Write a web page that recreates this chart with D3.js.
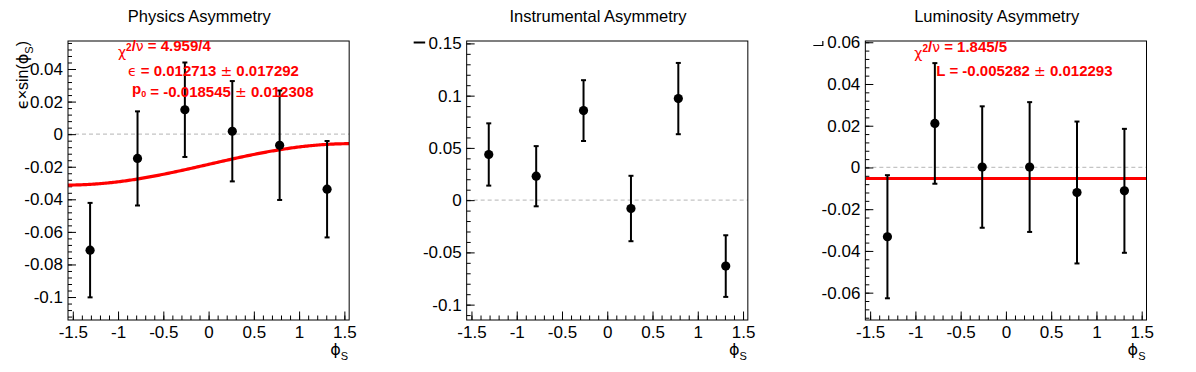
<!DOCTYPE html>
<html>
<head>
<meta charset="utf-8">
<script src="https://cdn.jsdelivr.net/npm/d3@7"></script>
<style>
  body { margin: 0; background: #fff; }
  svg text { font-family: 'Liberation Sans', Arial, Helvetica, sans-serif; }
</style>
</head>
<body>
<svg id="chart" width="1196" height="372"></svg>
<script>
'use strict';

// bin centres in phi_S (same for all three panels)
var xCenters = [-1.309, -0.785, -0.262, 0.262, 0.785, 1.309]
var xTicks = [-1.5, -1, -0.5, 0, 0.5, 1, 1.5]

var physVals = [-0.0712, -0.0149, 0.0150, 0.0018, -0.0068, -0.0338]
var physErrs = [0.0290, 0.0289, 0.0290, 0.0308, 0.0336, 0.0296]
var physYTicks = [-0.1, -0.08, -0.06, -0.04, -0.02, 0, 0.02, 0.04]

var instVals = [0.0437, 0.0229, 0.0857, -0.0080, 0.0972, -0.0631]
var instErrs = [0.0298, 0.0288, 0.0291, 0.0313, 0.0341, 0.0295]
var instYTicks = [-0.1, -0.05, 0, 0.05, 0.1, 0.15]

var lumiVals = [-0.0332, 0.0211, 0.0002, 0.0002, -0.0120, -0.0112]
var lumiErrs = [0.0295, 0.0289, 0.0291, 0.0311, 0.0340, 0.0297]
var lumiYTicks = [-0.06, -0.04, -0.02, 0, 0.02, 0.04, 0.06]

// fit results printed on the pads
var physEps = 0.012713, physP0 = -0.018545
var lumiL = -0.005282

var panelW = 1196 / 3,
  panelH = 372,
  margin = { left: 68, right: 49.5, top: 41, bottom: 52 },
  drawW = panelW - margin.left - margin.right,
  drawH = panelH - margin.top - margin.bottom

var SYM = "'DejaVu Sans', sans-serif"
var TICK_FONT = 17

var svg = d3.select('#chart')

var panels = [
  {
    title: 'Physics Asymmetry', vals: physVals, errs: physErrs,
    yDomain: [-0.1141, 0.0572], yTicks: physYTicks, yMinor: 0.004,
    fit: function(x) { return physP0 + physEps * Math.sin(x) },
    stats: [
      { x: 50, y: 57, parts: [['χ', 'sym'], ['2', 'sup'], ['/', 0], ['ν', 'sym'], [' = 4.959/4', 0]] },
      { x: 60, y: 76, parts: [['ϵ', 'sym'], [' = 0.012713 ', 0], ['±', 'sym'], [' 0.017292', 0]] },
      { x: 64, y: 94, parts: [['p', 0], ['0', 'sub'], [' = -0.018545 ', 0], ['±', 'sym'], [' 0.012308', 0]] }
    ],
    yTitle: true
  },
  {
    title: 'Instrumental Asymmetry', vals: instVals, errs: instErrs,
    yDomain: [-0.1147, 0.1523], yTicks: instYTicks, yMinor: 0.01,
    stats: [], mark: 'dash'
  },
  {
    title: 'Luminosity Asymmetry', vals: lumiVals, errs: lumiErrs,
    yDomain: [-0.0731, 0.0606], yTicks: lumiYTicks, yMinor: 0.004,
    fit: function(x) { return lumiL },
    stats: [
      { x: 49, y: 58, parts: [['χ', 'sym'], ['2', 'sup'], ['/', 0], ['ν', 'sym'], [' = 1.845/5', 0]] },
      { x: 71, y: 76, parts: [['L = -0.005282 ', 0], ['±', 'sym'], [' 0.012293', 0]] }
    ],
    mark: 'corner'
  }
]

function fmt(d) {
  return String(+d.toFixed(4))
}

function styleAxis(g) {
  g.attr('font-size', TICK_FONT)
    .attr('font-family', "'Liberation Sans', Arial, sans-serif")
  g.select('.domain').remove()
  g.selectAll('line').attr('stroke', '#000').attr('stroke-width', 1)
  g.selectAll('text')
    .attr('fill', '#000')
    .attr('font-size', TICK_FONT)
}

panels.forEach(function(p, i) {
  var ox = i * panelW
  var pg = svg.append('g').attr('transform', 'translate(' + ox + ',0)')

  pg.append('text')
    .attr('x', panelW / 2)
    .attr('y', 22)
    .attr('text-anchor', 'middle')
    .style('font-size', '16.5px')
    .text(p.title)

  var g = pg.append('g')
    .attr('transform', 'translate(' + margin.left + ',' + margin.top + ')')

  var xScale = d3.scaleLinear().domain([-1.553, 1.553]).range([0, drawW])
  var yScale = d3.scaleLinear().domain(p.yDomain).range([drawH, 0])

  var clipId = 'clip' + i
  g.append('clipPath').attr('id', clipId)
    .append('rect').attr('width', drawW).attr('height', drawH)

  // dashed zero line
  g.append('line')
    .attr('x1', 0).attr('x2', drawW)
    .attr('y1', yScale(0)).attr('y2', yScale(0))
    .attr('stroke', '#c4c4c4')
    .attr('stroke-width', 1.3)
    .attr('stroke-dasharray', '4,3')

  // axes, ticks drawn inwards like ROOT
  var xMinor = d3.range(-15, 16).map(function(k) { return k / 10 })
  g.append('g')
    .attr('transform', 'translate(0,' + drawH + ')')
    .call(d3.axisBottom(xScale).tickValues(xMinor).tickSize(-4.5).tickFormat(''))
    .call(styleAxis)
  g.append('g')
    .attr('transform', 'translate(0,' + drawH + ')')
    .call(d3.axisBottom(xScale).tickValues(xTicks).tickSize(-8.5).tickPadding(6).tickFormat(fmt))
    .call(styleAxis)

  var lo = Math.ceil(p.yDomain[0] / p.yMinor - 1e-6),
    hi = Math.floor(p.yDomain[1] / p.yMinor + 1e-6)
  var yMinor = d3.range(lo, hi + 1).map(function(k) { return k * p.yMinor })
  g.append('g')
    .call(d3.axisLeft(yScale).tickValues(yMinor).tickSize(-4).tickFormat(''))
    .call(styleAxis)
  g.append('g')
    .call(d3.axisLeft(yScale).tickValues(p.yTicks).tickSize(-8).tickPadding(5).tickFormat(fmt))
    .call(styleAxis)

  // fit function
  if (p.fit) {
    var xs = d3.range(0, 201).map(function(k) { return -1.553 + k * 3.106 / 200 })
    g.append('path')
      .datum(xs)
      .attr('clip-path', 'url(#' + clipId + ')')
      .attr('fill', 'none')
      .attr('stroke', '#ff0000')
      .attr('stroke-width', 3.2)
      .attr('d', d3.line()
        .x(function(d) { return xScale(d) })
        .y(function(d) { return yScale(p.fit(d)) }))
  }

  // error bars + markers
  var pts = xCenters.map(function(x, j) { return { x: x, y: p.vals[j], e: p.errs[j] } })
  var eb = g.selectAll('.eb').data(pts).enter().append('g').attr('class', 'eb')
  eb.append('line')
    .attr('x1', function(d) { return xScale(d.x) })
    .attr('x2', function(d) { return xScale(d.x) })
    .attr('y1', function(d) { return yScale(d.y - d.e) })
    .attr('y2', function(d) { return yScale(d.y + d.e) })
    .attr('stroke', '#000').attr('stroke-width', 2)
  eb.selectAll('.cap')
    .data(function(d) { return [d.y - d.e, d.y + d.e].map(function(v) { return { x: d.x, v: v } }) })
    .enter().append('line')
    .attr('x1', function(d) { return xScale(d.x) - 2.5 })
    .attr('x2', function(d) { return xScale(d.x) + 2.5 })
    .attr('y1', function(d) { return yScale(d.v) })
    .attr('y2', function(d) { return yScale(d.v) })
    .attr('stroke', '#000').attr('stroke-width', 2)
  eb.append('circle')
    .attr('cx', function(d) { return xScale(d.x) })
    .attr('cy', function(d) { return yScale(d.y) })
    .attr('r', 4.6)
    .attr('fill', '#000')

  // frame
  g.append('rect')
    .attr('width', drawW).attr('height', drawH)
    .attr('fill', 'none').attr('stroke', '#000').attr('stroke-width', 1)

  // fit statistics
  p.stats.forEach(function(s) {
    var t = g.append('text')
      .attr('x', s.x).attr('y', s.y - margin.top)
      .attr('fill', '#ff0000')
      .style('font-size', '15px')
      .style('font-weight', 'bold')
    s.parts.forEach(function(pt) {
      var ts = t.append('tspan').text(pt[0])
      if (pt[1] === 'sup') {
        ts.attr('dy', -6).style('font-size', '10px')
        t.append('tspan').attr('dy', 6).text('')
      } else if (pt[1] === 'sub') {
        ts.attr('dy', 3).style('font-size', '9px')
        t.append('tspan').attr('dy', -3).text('')
      } else if (pt[1] === 'sym') {
        ts.style('font-weight', 'normal').style('font-family', SYM).style('font-size', '14px')
      }
    })
  })

  // x title
  var xt = pg.append('text')
    .attr('x', margin.left + drawW - 1)
    .attr('y', 355)
    .attr('text-anchor', 'end')
    .style('font-size', '16px')
  xt.append('tspan').style('font-family', SYM).text('ϕ')
  xt.append('tspan').attr('dy', 5).style('font-size', '11px').text('S')

  if (p.yTitle) {
    var yt = pg.append('text')
      .attr('transform', 'translate(28,' + margin.top + ') rotate(-90)')
      .attr('text-anchor', 'end')
      .style('font-size', '16px')
    yt.append('tspan').style('font-family', SYM).text('ϵ')
    yt.append('tspan').text('×sin(')
    yt.append('tspan').style('font-family', SYM).text('ϕ')
    yt.append('tspan').attr('dy', 5).style('font-size', '11px').text('S')
    yt.append('tspan').attr('dy', -5).text(')')
  }

  // little stray marks left of the top label in ROOT output
  if (p.mark === 'dash') {
    pg.append('line').attr('x1', 15).attr('x2', 26.5).attr('y1', 42.5).attr('y2', 42.5)
      .attr('stroke', '#000').attr('stroke-width', 2)
  } else if (p.mark === 'corner') {
    pg.append('path').attr('d', 'M16,45.5H25.5V41')
      .attr('fill', 'none').attr('stroke', '#000').attr('stroke-width', 1.2)
  }
})
</script>
</body>
</html>
